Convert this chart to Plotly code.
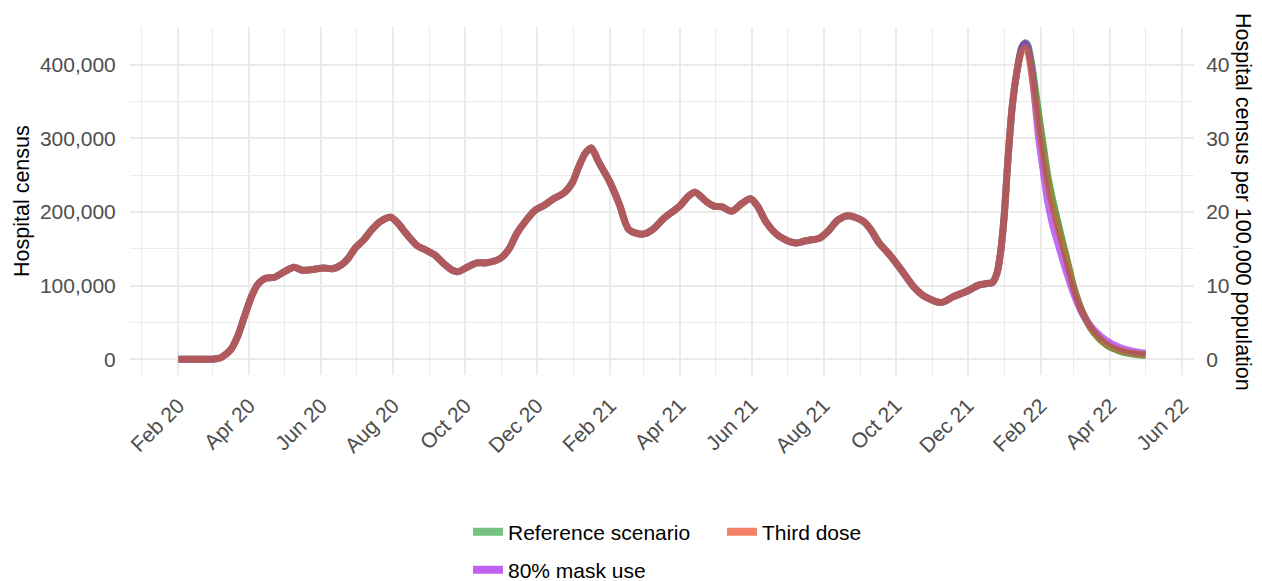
import plotly.graph_objects as go

# ---------------- data ----------------
hist_dates = [
    "2020-02-01", "2020-02-15", "2020-03-01", "2020-03-06", "2020-03-09", "2020-03-16",
    "2020-03-22", "2020-03-28", "2020-04-03", "2020-04-08", "2020-04-15", "2020-04-22",
    "2020-05-01", "2020-05-09", "2020-05-16", "2020-05-25", "2020-06-03", "2020-06-11",
    "2020-06-18", "2020-06-24", "2020-06-30", "2020-07-07", "2020-07-14", "2020-07-21",
    "2020-07-30", "2020-08-05", "2020-08-12", "2020-08-21", "2020-08-29", "2020-09-05",
    "2020-09-13", "2020-09-20", "2020-09-25", "2020-10-04", "2020-10-11", "2020-10-19",
    "2020-10-31", "2020-11-07", "2020-11-14", "2020-11-21", "2020-11-30", "2020-12-07",
    "2020-12-15", "2020-12-24", "2020-12-31", "2021-01-05", "2021-01-11", "2021-01-16",
    "2021-01-22", "2021-02-01", "2021-02-09", "2021-02-17", "2021-03-01", "2021-03-09",
    "2021-03-19", "2021-04-01", "2021-04-08", "2021-04-14", "2021-04-23", "2021-04-30",
    "2021-05-07", "2021-05-15", "2021-05-24", "2021-05-31", "2021-06-06", "2021-06-13",
    "2021-06-22", "2021-06-30", "2021-07-09", "2021-07-17", "2021-07-29", "2021-08-06",
    "2021-08-13", "2021-08-22", "2021-09-04", "2021-09-10", "2021-09-17", "2021-09-27",
    "2021-10-06", "2021-10-16", "2021-10-25", "2021-11-09", "2021-11-19", "2021-11-30",
    "2021-12-11", "2021-12-18", "2021-12-22", "2021-12-26", "2021-12-29", "2022-01-01",
    "2022-01-04", "2022-01-08", "2022-01-12",
]
hist_values = [
    0, 0, 0, 1000, 3000, 12000,
    30000, 58000, 85000, 101000, 110000, 111000,
    119000, 125000, 121000, 122000, 124000, 123000,
    128000, 137000, 151000, 162000, 176000, 187000,
    193000, 185000, 171000, 155000, 148000, 142000,
    130000, 121000, 119000, 126000, 131000, 131000,
    137000, 149000, 171000, 187000, 203000, 209000,
    218000, 226000, 240000, 260000, 280000, 287000,
    269000, 240000, 210000, 176000, 170000, 176000,
    192000, 208000, 221000, 227000, 215000, 208000,
    207000, 201000, 212000, 218000, 208000, 187000,
    170000, 162000, 158000, 161000, 165000, 176000,
    189000, 195000, 187000, 176000, 158000, 140000,
    121000, 99000, 86000, 77000, 85000, 92000,
    101000, 103000, 104000, 117000, 145000, 193000,
    265000, 345000, 392000,
]

proj_dates = [
    "2022-01-16", "2022-01-19", "2022-01-21", "2022-01-25", "2022-01-30", "2022-02-03",
    "2022-02-07", "2022-02-11", "2022-02-17", "2022-02-23", "2022-03-02", "2022-03-09",
    "2022-03-18", "2022-03-29", "2022-04-09", "2022-04-20", "2022-05-01",
]
reference_proj = [424000, 430000, 427000, 395000, 337000, 293000,
                  250000, 218000, 177000, 138000, 93000, 62000,
                  36000, 19000, 11000, 7000, 5000]
mask_proj = [423000, 429000, 424000, 385000, 305000, 258000,
             214000, 184000, 150000, 118000, 85000, 60000,
             40000, 25000, 16000, 11000, 8000]
third_proj = [418000, 423000, 418000, 380000, 322000, 280000,
              238000, 208000, 170000, 134000, 92000, 62000,
              37000, 20000, 12000, 8000, 6000]

series_names = ["Reference scenario", "80% mask use", "Third dose"]
series_proj = [reference_proj, mask_proj, third_proj]
line_colors = ["rgba(20,140,20,0.7)", "rgba(150,10,240,0.6)", "rgba(203,98,48,0.65)"]
legend_colors = ["#74C180", "#C060F0", "#F28064"]

POPULATION = 1_000_000_000  # per-100k secondary axis factor

x_range = ["2019-12-22", "2022-06-11"]
y_range = [-21500, 451500]

# ---------------- figure ----------------
FONT = "Liberation Sans, Arial, sans-serif"
fig = go.Figure()

dates_all = hist_dates + proj_dates
for name, proj, col in zip(series_names, series_proj, line_colors):
    fig.add_trace(go.Scatter(
        x=dates_all, y=hist_values + proj, mode="lines", name=name,
        line=dict(color=col, width=7, shape="spline", smoothing=0.8),
        showlegend=False, hoverinfo="skip"))

# invisible trace on the secondary axis so it is drawn
fig.add_trace(go.Scatter(
    x=dates_all, y=[v / POPULATION * 100000 for v in hist_values + reference_proj],
    yaxis="y2", mode="lines", line=dict(width=0, color="rgba(0,0,0,0)"),
    showlegend=False, hoverinfo="skip"))

# legend entries (row 1 / row 2 like ggplot's 2-column legend)
legend_rows = {"Reference scenario": "legend", "Third dose": "legend", "80% mask use": "legend2"}
for name in ["Reference scenario", "Third dose", "80% mask use"]:
    col = legend_colors[series_names.index(name)]
    fig.add_trace(go.Scatter(x=[None], y=[None], mode="lines", name=name,
                             line=dict(color=col, width=8), legend=legend_rows[name]))

grid_major = "#EBEBEB"
fig.update_layout(
    width=1262, height=581,
    margin=dict(l=130, r=68, t=27, b=206),
    paper_bgcolor="white", plot_bgcolor="white",
    font=dict(family=FONT, size=21, color="black"),
    xaxis=dict(
        type="date", range=x_range, tick0="2020-02-01", dtick="M2", tickformat="%b %y",
        tickangle=-45, tickfont=dict(size=21, color="#4D4D4D"),
        showgrid=True, gridcolor=grid_major, gridwidth=1.8, zeroline=False, showline=False,
        ticks="outside", ticklen=9, tickcolor="rgba(0,0,0,0)",
        minor=dict(dtick="M1", tick0="2020-01-01", showgrid=True, gridcolor=grid_major, gridwidth=0.9),
    ),
    yaxis=dict(
        range=y_range, tickvals=[0, 100000, 200000, 300000, 400000], tickformat=",d",
        tickfont=dict(size=21, color="#4D4D4D"),
        showgrid=True, gridcolor=grid_major, gridwidth=1.8, zeroline=False, showline=False,
        ticks="outside", ticklen=9, tickcolor="rgba(0,0,0,0)",
        minor=dict(tickvals=[50000, 150000, 250000, 350000], showgrid=True,
                   gridcolor=grid_major, gridwidth=0.9),
    ),
    yaxis2=dict(
        overlaying="y", side="right",
        range=[v / POPULATION * 100000 for v in y_range],
        tickvals=[0, 10, 20, 30, 40], tickfont=dict(size=21, color="#4D4D4D"),
        showgrid=False, zeroline=False, showline=False,
        ticks="outside", ticklen=7, tickcolor="rgba(0,0,0,0)",
    ),
    legend=dict(orientation="h", xref="container", yref="container",
                x=468 / 1262, y=1 - 532 / 581, xanchor="left", yanchor="middle",
                entrywidth=209, font=dict(size=21, color="black"), bgcolor="rgba(0,0,0,0)"),
    legend2=dict(orientation="h", xref="container", yref="container",
                 x=468 / 1262, y=1 - 570 / 581, xanchor="left", yanchor="middle",
                 font=dict(size=21, color="black"), bgcolor="rgba(0,0,0,0)"),
    annotations=[
        dict(text="Hospital census", xref="paper", yref="paper",
             x=(22 - 130) / 1064, y=0.5, xanchor="center", yanchor="middle",
             textangle=-90, showarrow=False, font=dict(size=21.5, color="black")),
        dict(text="Hospital census per 100,000 population", xref="paper", yref="paper",
             x=(1243 - 130) / 1064, y=0.497, xanchor="center", yanchor="middle",
             textangle=90, showarrow=False, font=dict(size=21.5, color="black")),
    ],
)

fig.write_html("out.html")
